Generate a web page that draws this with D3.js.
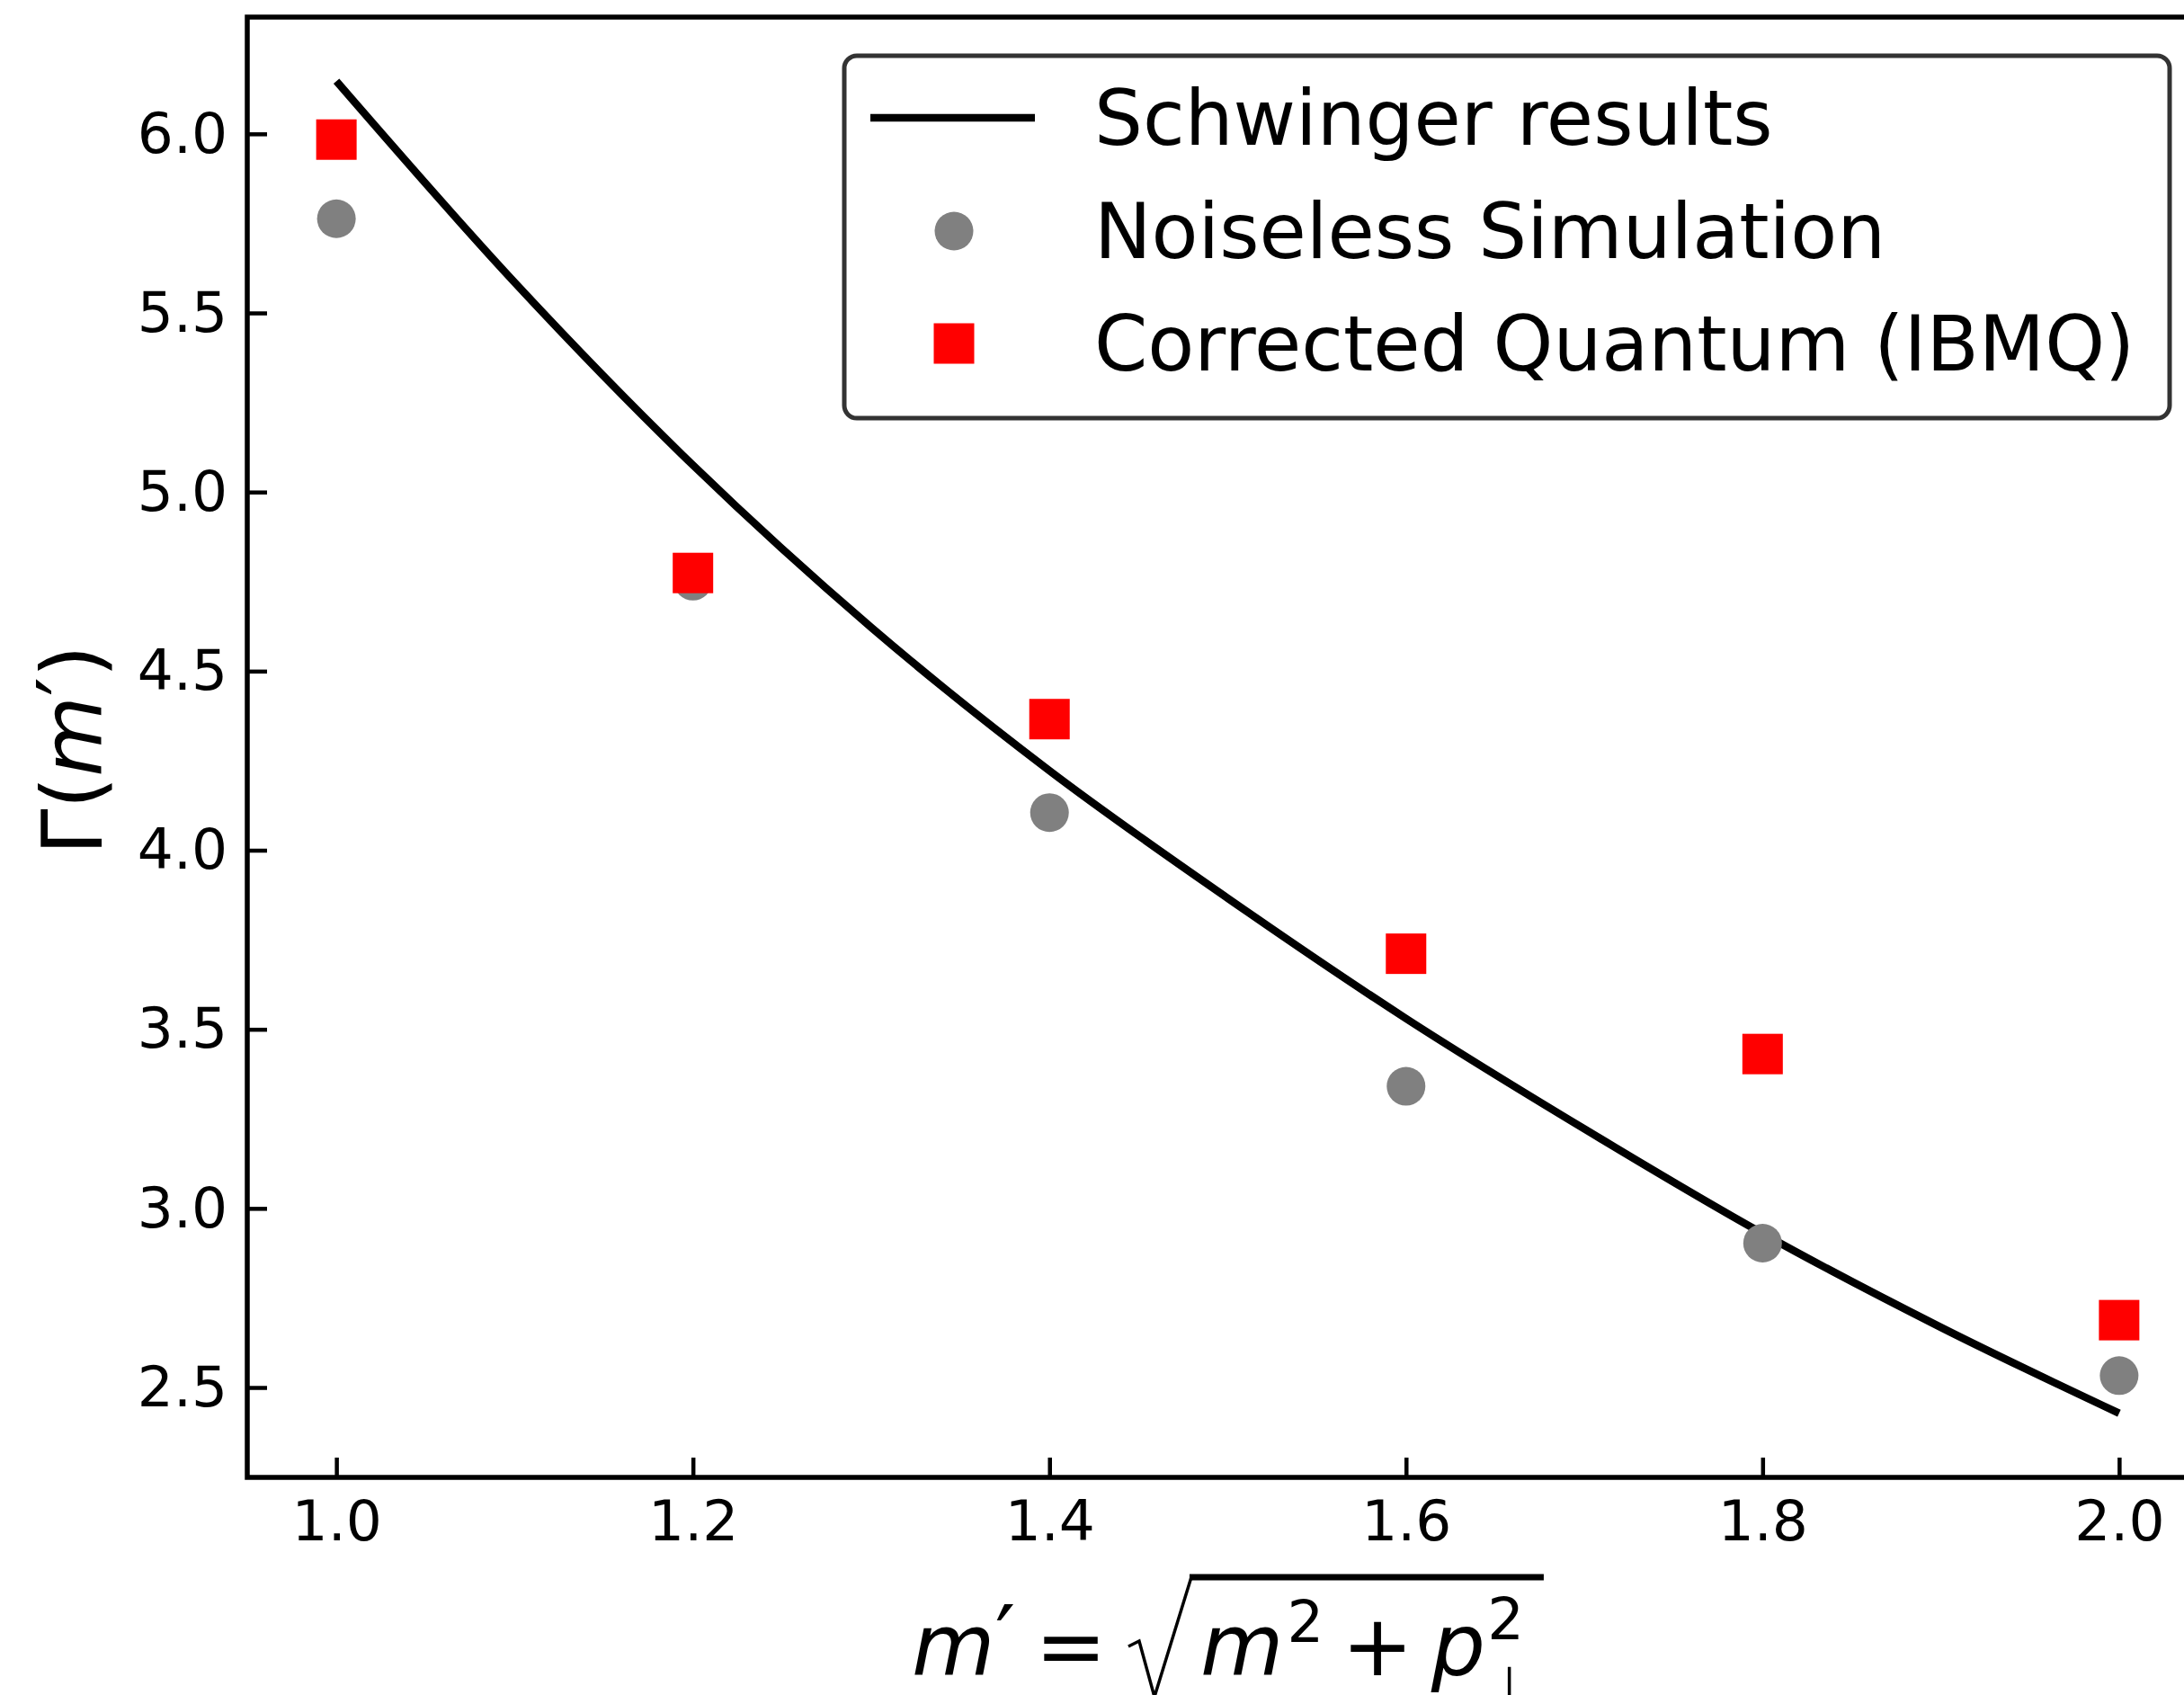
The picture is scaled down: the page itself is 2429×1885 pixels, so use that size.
<!DOCTYPE html>
<meta charset="utf-8">
<style>
  body { margin: 0; background: #fff; }
  text { font-family: "DejaVu Sans", sans-serif; fill: #000; }
</style>
<body>
<script src="https://cdnjs.cloudflare.com/ajax/libs/d3/7.8.5/d3.min.js"></script>
<script>
// Schwinger curve samples
var curveX = [1.0, 1.1, 1.2, 1.3, 1.4, 1.5, 1.6, 1.7, 1.8, 1.9, 2.0];
var schwinger = [6.147, 5.585, 5.075, 4.622, 4.222, 3.866, 3.530, 3.222, 2.930, 2.668, 2.428];

// measured points
var pointX = [1.0, 1.2, 1.4, 1.6, 1.8, 2.0];
var noiseless = [5.763, 4.751, 4.105, 3.341, 2.903, 2.533];
var corrected = [5.984, 4.774, 4.366, 3.711, 3.431, 2.688];

var xTicks = [1.0, 1.2, 1.4, 1.6, 1.8, 2.0];
var yTicks = [2.5, 3.0, 3.5, 4.0, 4.5, 5.0, 5.5, 6.0];
var legendLabels = ["Schwinger results", "Noiseless Simulation", "Corrected Quantum (IBMQ)"];

var width = 2429, height = 1885;
var pLeft = 275, pRight = 2456, pTop = 19, pBottom = 1643;

var svg = d3.select("body").append("svg")
  .attr("width", width)
  .attr("height", height);

var x = d3.scaleLinear().domain([0.95, 2.05]).range([pLeft, pRight]);
var y = d3.scaleLinear().domain([2.249, 6.326]).range([pBottom, pTop]);

// axes with inward ticks
var gx = svg.append("g")
  .attr("transform", "translate(0," + pBottom + ")")
  .call(d3.axisBottom(x).tickValues(xTicks).tickFormat(d3.format(".1f"))
    .tickSizeInner(-22).tickSizeOuter(0).tickPadding(25));
var gy = svg.append("g")
  .attr("transform", "translate(" + pLeft + ",0)")
  .call(d3.axisLeft(y).tickValues(yTicks).tickFormat(d3.format(".1f"))
    .tickSizeInner(-22).tickSizeOuter(0).tickPadding(22));
[gx, gy].forEach(function(g) {
  g.select(".domain").remove();
  g.selectAll(".tick line").attr("stroke", "#000").attr("stroke-width", 4.5);
  g.selectAll(".tick text").style("font-size", "63px").attr("fill", "#000");
});

// curve
var line = d3.line()
  .x(function(d, i) { return x(curveX[i]); })
  .y(function(d) { return y(d); })
  .curve(d3.curveMonotoneX);
svg.append("path")
  .datum(schwinger)
  .attr("d", line)
  .attr("fill", "none")
  .attr("stroke", "#000")
  .attr("stroke-width", 8.5);

var r = 21.5, sq = 45;
svg.append("g").selectAll("circle")
  .data(noiseless)
  .join("circle")
  .attr("cx", function(d, i) { return x(pointX[i]); })
  .attr("cy", function(d) { return y(d); })
  .attr("r", r)
  .attr("fill", "#808080");

svg.append("g").selectAll("rect")
  .data(corrected)
  .join("rect")
  .attr("x", function(d, i) { return x(pointX[i]) - sq / 2; })
  .attr("y", function(d) { return y(d) - sq / 2; })
  .attr("width", sq)
  .attr("height", sq)
  .attr("fill", "#ff0000");

// spines
svg.append("rect")
  .attr("x", pLeft).attr("y", pTop)
  .attr("width", pRight - pLeft).attr("height", pBottom - pTop)
  .attr("fill", "none")
  .attr("stroke", "#000")
  .attr("stroke-width", 5.5);

// legend
var lg = svg.append("g");
lg.append("rect")
  .attr("x", 939).attr("y", 62)
  .attr("width", 1474).attr("height", 403)
  .attr("rx", 14)
  .attr("fill", "#fff")
  .attr("stroke", "#333")
  .attr("stroke-width", 5);
var rowY = [131, 257, 382];
lg.append("line")
  .attr("x1", 968).attr("x2", 1151)
  .attr("y1", rowY[0]).attr("y2", rowY[0])
  .attr("stroke", "#000").attr("stroke-width", 8.5);
lg.append("circle")
  .attr("cx", 1061).attr("cy", rowY[1]).attr("r", r)
  .attr("fill", "#808080");
lg.append("rect")
  .attr("x", 1061 - sq / 2).attr("y", rowY[2] - sq / 2)
  .attr("width", sq).attr("height", sq)
  .attr("fill", "#ff0000");
lg.selectAll("text.lab")
  .data(legendLabels)
  .join("text")
  .attr("class", "lab")
  .attr("x", 1217)
  .attr("y", function(d, i) { return rowY[i] + 30; })
  .style("font-size", "85px")
  .text(function(d) { return d; });

// y label  Γ(m′)
var yl = svg.append("text")
  .attr("transform", "translate(113,834) rotate(-90)")
  .attr("text-anchor", "middle")
  .style("font-size", "92px");
yl.append("tspan").text("Γ(");
yl.append("tspan").style("font-style", "italic").text("m");
yl.append("tspan").attr("dy", "-0.05em").text("′");
yl.append("tspan").attr("dy", "0.05em").text(")");

// x label  m′ = √(m² + p⊥²)
var xl = svg.append("g");
var base = 1863, cx = 0;
function piece(txt, size, italic, dy) {
  var t = xl.append("text")
    .attr("x", cx)
    .attr("y", base + (dy || 0))
    .style("font-size", size + "px")
    .style("font-style", italic ? "italic" : "normal")
    .text(txt);
  return t.node().getComputedTextLength();
}
cx += piece("m", 95, true);
cx += piece("′", 100, false, -6);
cx += 22;
cx += piece("=", 95, false);
cx += 24;
var radStart = cx;
cx += 80;
cx += piece("m", 95, true);
cx += 4;
cx += piece("2", 64, false, -37);
cx += 20;
cx += piece("+", 95, false);
cx += 20;
cx += piece("p", 95, true);
cx += 2;
var w2 = piece("2", 64, false, -40);
var w3 = piece("⊥", 56, false, 30);
cx += Math.max(w2, w3) + 14;
xl.append("path")
  .attr("d", "M" + radStart + "," + (base - 32) +
             "L" + (radStart + 12) + "," + (base - 38) +
             "L" + (radStart + 29) + "," + (base + 24) +
             "L" + (radStart + 70) + "," + (base - 109))
  .attr("fill", "none")
  .attr("stroke", "#000")
  .attr("stroke-width", 3.5);
xl.append("line")
  .attr("x1", radStart + 68).attr("x2", cx)
  .attr("y1", base - 109).attr("y2", base - 109)
  .attr("stroke", "#000").attr("stroke-width", 7);
xl.attr("transform", "translate(" + ((pLeft + pRight) / 2 - cx / 2) + ",0)");
</script>
</body>
